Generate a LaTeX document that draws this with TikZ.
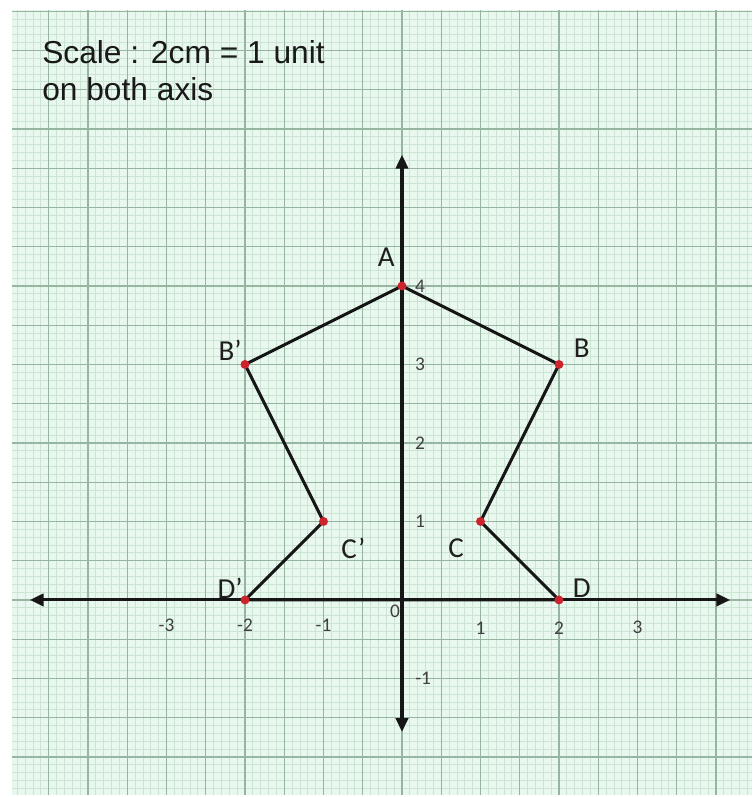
\documentclass[tikz,border=0pt]{standalone}
\usepackage{fontspec}
\setmainfont{Carlito}
\newfontfamily\notefont{Liberation Sans}
\usepackage{xcolor}
\usetikzlibrary{arrows.meta,positioning,backgrounds}
\definecolor{paper}{RGB}{232,248,238}
\definecolor{gridfine}{RGB}{203,228,212}
\definecolor{gridbold}{RGB}{150,182,162}
\definecolor{inkdark}{RGB}{22,22,22}
\definecolor{dotred}{RGB}{205,35,45}
\tikzset{
  axisline/.style={draw=inkdark, line width=2.2pt, {Triangle[length=10pt,width=9pt]}-{Triangle[length=10pt,width=9pt]}},
  edgeline/.style={draw=inkdark, line width=2.2pt, line join=round},
  vertexdot/.style={circle, fill=dotred, inner sep=0pt, minimum size=6.5pt},
  vertexlabel/.style={font=\fontsize{21}{24}\selectfont, text=black!88, inner sep=0pt},
  ticklabel/.style={font=\fontsize{14}{16}\selectfont, text=black!75, inner sep=0pt},
  notetext/.style={font=\notefont\fontsize{23}{27}\selectfont, align=left, text=black!90, inner sep=0pt}
}
\begin{document}
\begin{tikzpicture}[x=2cm,y=2cm]
\useasboundingbox (-5.121,-2.510) rectangle (4.459,7.643);
\begin{pgfonlayer}{background}
\fill[white] (-5.121,-2.510) rectangle (4.459,7.643);
\fill[paper] (-4.968,-2.484) rectangle (4.459,7.516);
\draw[gridfine, line width=0.6pt, step=0.1] (-4.968,-2.484) grid (4.459,7.516);
\draw[gridbold, line width=1pt, step=0.5] (-4.968,-2.484) grid (4.459,7.516);
\end{pgfonlayer}
\node[notetext, anchor=north west] (scale) at (-4.586,7.13) {Scale : 2cm = 1 unit\\on both axis};
\coordinate (xleft) at (-4.74,0);
\coordinate (xright) at (4.18,0);
\coordinate (ytop) at (0,5.67);
\coordinate (ybottom) at (0,-1.68);
\node[vertexdot] (A) at (0,4) {};
\node[vertexdot] (B) at (2,3) {};
\node[vertexdot] (C) at (1,1) {};
\node[vertexdot] (D) at (2,0) {};
\node[vertexdot] (Bp) at (-2,3) {};
\node[vertexdot] (Cp) at (-1,1) {};
\node[vertexdot] (Dp) at (-2,0) {};
\begin{pgfonlayer}{background}
\draw[axisline] (xleft) -- (xright);
\draw[axisline] (ybottom) -- (ytop);
\draw[edgeline] (A.center) -- (B.center) -- (C.center) -- (D.center) -- (Dp.center) -- (Cp.center) -- (Bp.center) -- cycle;
\end{pgfonlayer}
\node[vertexlabel] (labA) at (-0.2,4.36) {A};
\node[vertexlabel] (labB) at (2.29,3.21) {B};
\node[vertexlabel] (labC) at (0.69,0.66) {C};
\node[vertexlabel] (labD) at (2.29,0.15) {D};
\node[vertexlabel] (labBp) at (-2.19,3.18) {B’};
\node[vertexlabel] (labCp) at (-0.62,0.66) {C’};
\node[vertexlabel] (labDp) at (-2.19,0.15) {D’};
\node[ticklabel] (tickyone) at (0.23,1) {1};
\node[ticklabel] (tickytwo) at (0.23,2) {2};
\node[ticklabel] (tickythree) at (0.23,3) {3};
\node[ticklabel] (tickyfour) at (0.23,4) {4};
\node[ticklabel] (tickyneg) at (0.27,-1) {-1};
\node[ticklabel] (tickxone) at (1,-0.36) {1};
\node[ticklabel] (tickxtwo) at (2,-0.36) {2};
\node[ticklabel] (tickxthree) at (3,-0.35) {3};
\node[ticklabel] (tickxnegone) at (-1,-0.32) {-1};
\node[ticklabel] (tickxnegtwo) at (-2,-0.32) {-2};
\node[ticklabel] (tickxnegthree) at (-3,-0.32) {-3};
\node[ticklabel] (origin) at (-0.09,-0.15) {0};
\end{tikzpicture}
\end{document}
